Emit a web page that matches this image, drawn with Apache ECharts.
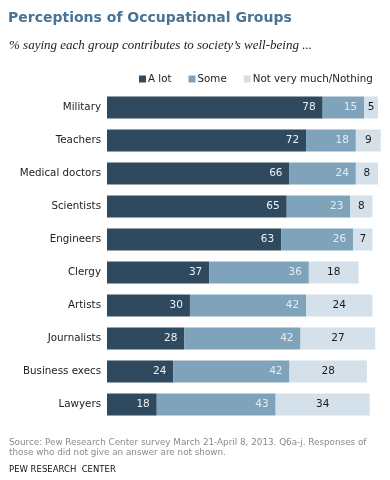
<!DOCTYPE html>
<html><head><meta charset="utf-8">
<script src="https://cdn.jsdelivr.net/npm/echarts@6/dist/echarts.min.js"></script>
<style>html,body{margin:0;padding:0;background:#fff}#c{width:390px;height:480px}</style>
</head><body><div id="c"></div>
<script>
const categories = ['Military','Teachers','Medical doctors','Scientists','Engineers','Clergy','Artists','Journalists','Business execs','Lawyers'];
const aLot = [78,72,66,65,63,37,30,28,24,18];
const some = [15,18,24,23,26,36,42,42,42,43];
const notMuch = [5,9,8,8,7,18,24,27,28,34];
const seriesNames = ['A lot','Some','Not very much/Nothing'];

const colors = ['#2f4a5e','#7fa3bb','#d4e1ea'];
const labelColors = ['#eef2f5','#e4ecf2','#1a1a1a'];
const font = 'Verdana, "DejaVu Sans", sans-serif';

const chart = echarts.init(document.getElementById('c'), null, {renderer:'canvas'});
const dataSets = [aLot, some, notMuch];
chart.setOption({
  animation:false,
  title:[
    {text:'Perceptions of Occupational Groups', left:3, top:6,
     textStyle:{fontFamily:font, fontWeight:'bold', fontSize:14, color:'#4a7394'}},
    {text:'% saying each group contributes to society\u2019s well-being ...', left:4, top:34,
     textStyle:{fontFamily:'"Liberation Serif", "DejaVu Serif", serif', fontStyle:'italic', fontWeight:'normal', fontSize:13, color:'#222'}},
    {text:'Source: Pew Research Center survey March 21-April 8, 2013. Q6a-j. Responses of\nthose who did not give an answer are not shown.', left:4, top:433,
     textStyle:{fontFamily:font, fontWeight:'normal', fontSize:8.8, lineHeight:10, color:'#8a8a8a'}},
    {text:'PEW RESEARCH  CENTER', left:4, top:460,
     textStyle:{fontFamily:font, fontWeight:'normal', fontSize:8.5, color:'#111'}}
  ],
  legend:{
    data:seriesNames, top:69, left:134, itemWidth:7, itemHeight:7, itemGap:17,
    icon:'rect',
    textStyle:{fontFamily:font, fontSize:10.3, color:'#222', padding:[0,0,0,-3]}
  },
  grid:{left:107, top:91, width:276.5, height:330, containLabel:false},
  xAxis:{type:'value', min:0, max:100, show:false},
  yAxis:{type:'category', data:categories, inverse:true,
    axisLine:{show:false}, axisTick:{show:false},
    axisLabel:{fontFamily:font, fontSize:10.3, color:'#222', margin:6}},
  series: dataSets.map((d,i)=>({
    name:seriesNames[i], type:'bar', stack:'s', data:d, barWidth:22,
    itemStyle:{color:colors[i]},
    label:{show:true, position: i<2 ? 'insideRight' : 'inside', distance: 7,
      fontFamily:font, fontSize:10.5, color:labelColors[i]}
  }))
});
</script></body></html>
